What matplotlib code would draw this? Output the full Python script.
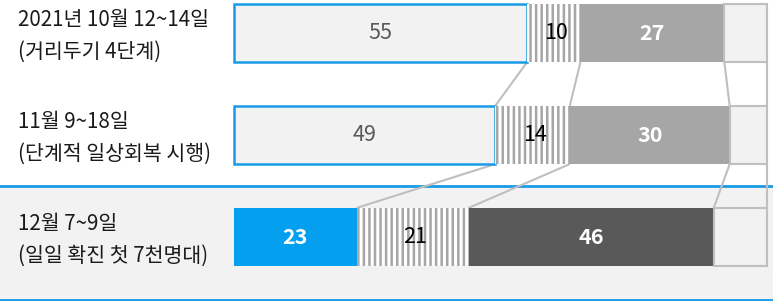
import matplotlib
matplotlib.use("Agg")
import matplotlib.pyplot as plt
import numpy as np

plt.rcParams['font.family'] = ['Noto Sans CJK KR', 'DejaVu Sans']
plt.rcParams['hatch.linewidth'] = 1.8

# ---- data ----
row_line1 = ["2021년 10월 12~14일", "11월 9~18일", "12월 7~9일"]
row_line2 = ["(거리두기 4단계)", "(단계적 일상회복 시행)", "(일일 확진 첫 7천명대)"]
seg_a = [55, 49, 23]
seg_b = [10, 14, 21]
seg_c = [27, 30, 46]
seg_d = [8, 7, 10]

W, H = 773, 301
fig = plt.figure(figsize=(W / 100, H / 100), dpi=100)
ax = fig.add_axes([0, 0, 1, 1])

# mapping: value 0 at 234px, 100 at 767px
px_per = (767 - 234) / 100.0
ax.set_xlim(-234 / px_per, 100 + (W - 767) / px_per)
row_px = 102.0
ax.set_ylim(2 + (H - 237) / row_px, -33 / row_px)
ax.axis('off')

BLUE = '#1a9be6'
LGRAY = '#f2f2f2'
EDGE = '#bfbfbf'
VAL_FS = 15.5
LAB_FS = 14.8

# highlight band for last row
ax.axhspan(1.5, 2.615, color=LGRAY, zorder=0)
ax.axhline(1.5, color=BLUE, lw=2, zorder=1)
ax.axhline(2.615, color=BLUE, lw=2, zorder=1)

ys = np.arange(len(seg_a))
h = 0.57
a = np.array(seg_a); b = np.array(seg_b); c = np.array(seg_c); d = np.array(seg_d)

# segment A
for i, y in enumerate(ys):
    if i < 2:
        ax.barh(y, a[i], left=0, height=h, color=LGRAY, edgecolor=BLUE, lw=1.8, zorder=3)
        ax.text(a[i] / 2, y, str(a[i]), ha='center', va='center', fontsize=VAL_FS, color='#595959', zorder=5)
    else:
        ax.barh(y, a[i], left=0, height=h, color='#04a0ef', edgecolor='none', zorder=3)
        ax.text(a[i] / 2, y, str(a[i]), ha='center', va='center', fontsize=VAL_FS, color='white', fontweight='bold', zorder=5)

# segment B (hatched)
ax.barh(ys, b, left=a, height=h, color='white', edgecolor='#a6a6a6', hatch='|||', lw=0, zorder=3)
for i, y in enumerate(ys):
    ax.text(a[i] + b[i] / 2 + 0.5, y, str(b[i]), ha='center', va='center', fontsize=VAL_FS, color='black', zorder=5)

# segment C
c_colors = ['#a6a6a6', '#a6a6a6', '#595959']
ax.barh(ys, c, left=a + b, height=h, color=c_colors, edgecolor='none', zorder=3)
for i, y in enumerate(ys):
    ax.text(a[i] + b[i] + c[i] / 2, y, str(c[i]), ha='center', va='center', fontsize=VAL_FS, color='white', fontweight='bold', zorder=5)

# segment D
ax.barh(ys, d, left=a + b + c, height=h, color=LGRAY, edgecolor=EDGE, lw=1.5, zorder=3)

# connector lines
cums = [a, a + b, a + b + c, a + b + c + d]
for i in range(len(ys) - 1):
    for cum in cums:
        ax.plot([cum[i], cum[i + 1]], [ys[i] + h / 2, ys[i + 1] - h / 2],
                color=EDGE, lw=1.5, zorder=2, solid_capstyle='butt')

# row labels
for i, y in enumerate(ys):
    ax.text(-216 / px_per, y - 0.13, row_line1[i], ha='left', va='center', fontsize=LAB_FS, color='#1a1a1a')
    ax.text(-216 / px_per, y + 0.18, row_line2[i], ha='left', va='center', fontsize=LAB_FS, color='#1a1a1a')

fig.savefig('out.png', dpi=100)
